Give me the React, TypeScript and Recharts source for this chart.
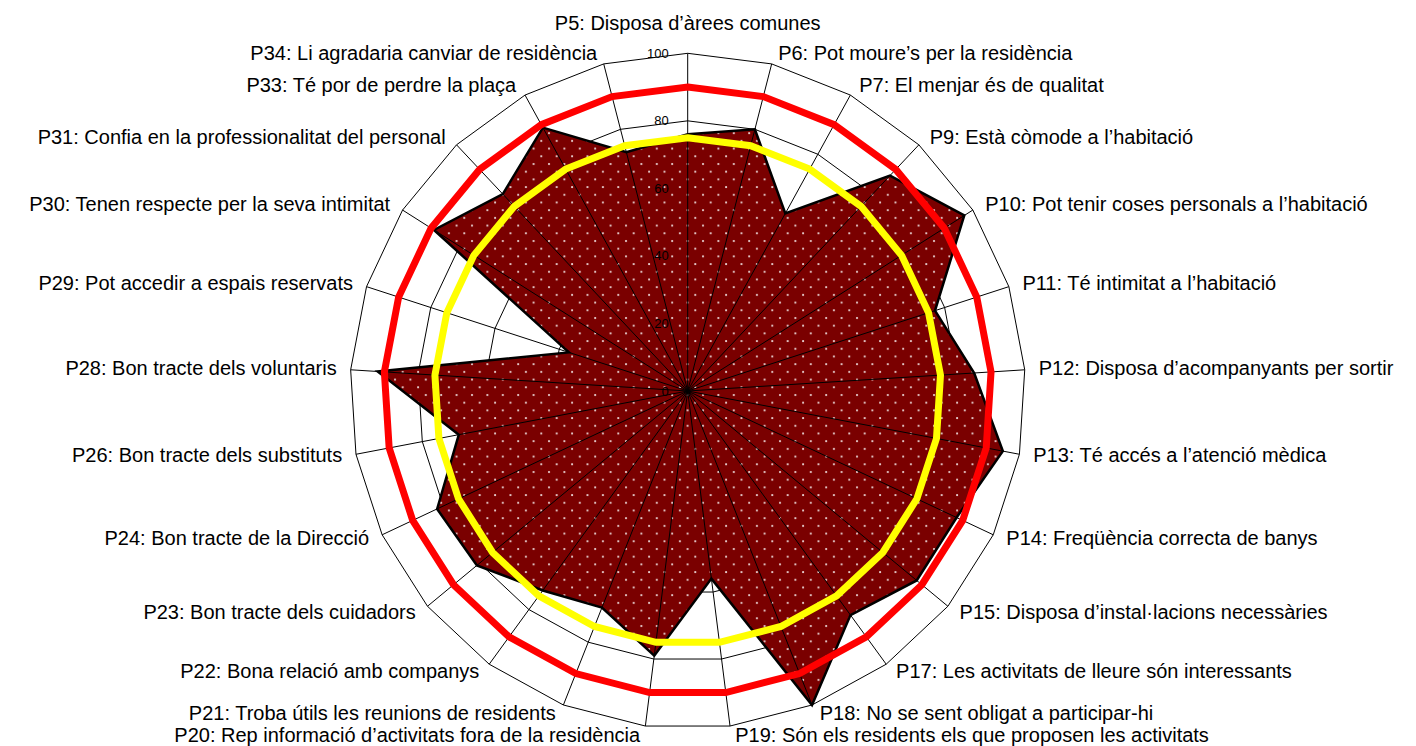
import React from "react";
import {
  RadarChart,
  Radar,
  PolarGrid,
  PolarAngleAxis,
  PolarRadiusAxis,
} from "recharts";

const categories = [
  "P5: Disposa d’àrees comunes",
  "P6: Pot moure’s per la residència",
  "P7: El menjar és de qualitat",
  "P9: Està còmode a l’habitació",
  "P10: Pot tenir coses personals a l’habitació",
  "P11: Té intimitat a l’habitació",
  "P12: Disposa d’acompanyants per sortir",
  "P13: Té accés a l’atenció mèdica",
  "P14: Freqüència correcta de banys",
  "P15: Disposa d’instal·lacions necessàries",
  "P17: Les activitats de lleure són interessants",
  "P18: No se sent obligat a participar-hi",
  "P19: Són els residents els que proposen les activitats",
  "P20: Rep informació d’activitats fora de la residència",
  "P21: Troba útils les reunions de residents",
  "P22: Bona relació amb companys",
  "P23: Bon tracte dels cuidadors",
  "P24: Bon tracte de la Direcció",
  "P26: Bon tracte dels substituts",
  "P28: Bon tracte dels voluntaris",
  "P29: Pot accedir a espais reservats",
  "P30: Tenen respecte per la seva intimitat",
  "P31: Confia en la professionalitat del personal",
  "P33: Té por de perdre la plaça",
  "P34: Li agradaria canviar de residència",
];

const scores = [
  76, 80, 60, 87.5, 97, 77, 85, 95, 88, 88, 82, 100, 56, 79, 69, 73, 81, 82,
  69, 92, 37, 89, 80, 89, 73,
];

const upperRef = [
  90, 90, 90, 90, 90, 90, 90, 90, 90, 90, 90, 90, 90, 90, 90, 90, 90, 90, 90,
  90, 90, 90, 90, 90, 90,
];

const lowerRef = [
  75, 75, 75, 75, 75, 75, 75, 75, 75, 75, 75, 75, 75, 75, 75, 75, 75, 75, 75,
  75, 75, 75, 75, 75, 75,
];

const radiusTicks = [0, 20, 40, 60, 80, 100];

const data = categories.map((name, i) => ({
  name,
  score: scores[i],
  upper: upperRef[i],
  lower: lowerRef[i],
}));

const FONT = "'Liberation Sans', Arial, sans-serif";

// category labels: Excel-like placement outside the outer ring
const AngleTick = (props: any) => {
  const { x, y, payload } = props;
  const rad = (payload.coordinate * Math.PI) / 180;
  const c = Math.cos(rad);
  const s = Math.sin(rad);
  const vx = x - 8 * c;
  const vy = y + 8 * s;
  let anchor = "middle";
  let tx = vx;
  let ty = vy;
  if (Math.abs(c) < 1e-3) {
    ty = s > 0 ? vy - 23 : vy + 20;
  } else {
    anchor = c > 0 ? "start" : "end";
    tx = vx + Math.sign(c) * (4 + 10 * Math.abs(c));
    ty = vy + 6 - 10 * s;
  }
  return (
    <text
      x={tx}
      y={ty}
      textAnchor={anchor}
      fontSize={20}
      fontFamily={FONT}
      fill="#000"
    >
      {payload.value}
    </text>
  );
};

const RadiusTick = (props: any) => {
  const { x, y, payload } = props;
  return (
    <text
      x={x - 19}
      y={y + 4.5}
      textAnchor="end"
      fontSize={13}
      fontFamily={FONT}
      fill="#000"
    >
      {payload.value}
    </text>
  );
};

export default function App() {
  return (
    <RadarChart
      width={1400}
      height={738}
      cx={679.7}
      cy={383}
      outerRadius={337.7}
      data={data}
    >
      <defs>
        <pattern
          id="dots"
          width={15.4}
          height={15.4}
          patternUnits="userSpaceOnUse"
        >
          <rect width={15.4} height={15.4} fill="#7a0000" />
          <circle cx={2} cy={2} r={1.1} fill="#ffffff" fillOpacity={0.85} />
          <circle cx={9.7} cy={9.7} r={1.1} fill="#ffffff" fillOpacity={0.85} />
        </pattern>
      </defs>
      <PolarGrid
        gridType="polygon"
        stroke="#000"
        strokeWidth={1}
        radialLines={false}
      />
      <PolarAngleAxis
        dataKey="name"
        axisLine={false}
        tickLine={false}
        tick={<AngleTick />}
      />
      <PolarRadiusAxis
        angle={90}
        domain={[0, 100]}
        tickCount={6}
        ticks={radiusTicks as any}
        axisLine={false}
        tickLine={false}
        tick={<RadiusTick />}
      />
      <Radar
        name="Valoració"
        dataKey="score"
        fill="url(#dots)"
        fillOpacity={1}
        stroke="#000"
        strokeWidth={2.5}
        isAnimationActive={false}
      />
      {/* spokes drawn over the filled area */}
      <PolarGrid
        gridType="polygon"
        stroke="#000"
        strokeWidth={1}
        polarRadius={[]}
        {...({ zIndex: 150 } as any)}
      />
      <Radar
        name="Límit superior"
        dataKey="upper"
        fill="none"
        fillOpacity={0}
        stroke="#ff0000"
        strokeWidth={7}
        isAnimationActive={false}
        {...({ zIndex: 200 } as any)}
      />
      <Radar
        name="Límit inferior"
        dataKey="lower"
        fill="none"
        fillOpacity={0}
        stroke="#ffff00"
        strokeWidth={7}
        isAnimationActive={false}
        {...({ zIndex: 200 } as any)}
      />
    </RadarChart>
  );
}
